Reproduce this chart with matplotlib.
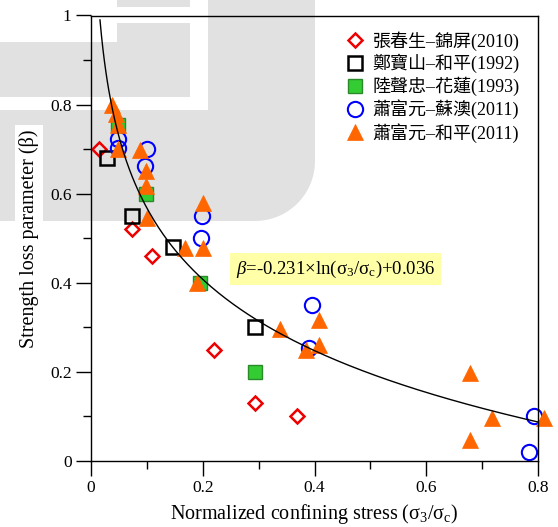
import numpy as np
import matplotlib
matplotlib.use('Agg')
import matplotlib.pyplot as plt
from matplotlib.patches import Rectangle, Polygon
from matplotlib.ticker import MultipleLocator, FuncFormatter

plt.rcParams['font.family'] = ['Liberation Serif', 'Noto Sans CJK TC']
plt.rcParams['mathtext.fontset'] = 'custom'
plt.rcParams['mathtext.rm'] = 'Liberation Serif'
plt.rcParams['mathtext.it'] = 'Liberation Serif:italic'

# data
zhang_x = [0.015, 0.073, 0.110, 0.220, 0.294, 0.368]
zhang_y = [0.700, 0.520, 0.460, 0.250, 0.130, 0.100]

zheng_x = [0.028, 0.073, 0.146, 0.293]
zheng_y = [0.680, 0.550, 0.480, 0.300]

lu_x = [0.049, 0.098, 0.195, 0.293]
lu_y = [0.755, 0.600, 0.400, 0.200]

xiao_sa_x = [0.049, 0.049, 0.100, 0.097, 0.198, 0.196, 0.396, 0.391, 0.793, 0.784]
xiao_sa_y = [0.723, 0.703, 0.700, 0.663, 0.550, 0.500, 0.350, 0.253, 0.100, 0.020]

xiao_hp_x = [0.037, 0.044, 0.049, 0.049, 0.088, 0.098, 0.098, 0.100, 0.200, 0.168,
             0.200, 0.189, 0.339, 0.385, 0.408, 0.408, 0.678, 0.718, 0.678, 0.810]
xiao_hp_y = [0.800, 0.780, 0.755, 0.700, 0.697, 0.650, 0.617, 0.545, 0.580, 0.478,
             0.478, 0.400, 0.297, 0.250, 0.317, 0.260, 0.197, 0.096, 0.047, 0.096]

labels = ['張春生–錦屏(2010)', '鄭寶山–和平(1992)', '陸聲忠–花蓮(1993)',
          '蕭富元–蘇澳(2011)', '蕭富元–和平(2011)']

# fitted curve beta = a*ln(s3/sc) + b
fit_a, fit_b = -0.231, 0.036

fig = plt.figure(figsize=(5.58, 5.27), dpi=100)

# faint watermark behind the plot, in pixel units
bg = fig.add_axes([0, 0, 1, 1], zorder=0)
bg.set_xlim(0, 558)
bg.set_ylim(527, 0)
bg.axis('off')
gray = '#e1e1e1'
r = 60
th = np.linspace(0, np.pi / 2, 20)
arc = np.column_stack([315 - r + r * np.cos(th), 221 - r + r * np.sin(th)])
shape = np.vstack([[[0, 42], [315, 42]], arc, [[0, 221]]])
bg.add_patch(Polygon(shape, closed=True, fc=gray, ec='none'))
bg.add_patch(Rectangle((208, 0), 107, 42, fc=gray, ec='none'))
bg.add_patch(Rectangle((117, 0), 73, 7, fc=gray, ec='none'))
bg.add_patch(Rectangle((117, 23), 73, 19, fc=gray, ec='none'))
bg.add_patch(Rectangle((0, 97), 208, 13, fc='white', ec='none'))
bg.add_patch(Rectangle((190, 0), 18, 110, fc='white', ec='none'))

ax = fig.add_axes([91 / 558, 66 / 527, 447 / 558, 445.5 / 527], zorder=1)
ax.set_facecolor('none')

ax.plot(zhang_x, zhang_y, 'D', ms=7.5, mfc='none', mec='#ee0000', mew=1.8,
        ls='none', label=labels[0], clip_on=False)
ax.plot(zheng_x, zheng_y, 's', ms=10.5, mfc='none', mec='black', mew=1.8,
        ls='none', label=labels[1], clip_on=False)
ax.plot(lu_x, lu_y, 's', ms=10.5, mfc='#33cc33', mec='#2a8a2a', mew=1.0,
        ls='none', label=labels[2], clip_on=False)
ax.plot(xiao_sa_x, xiao_sa_y, 'o', ms=11, mfc='none', mec='#0000ff', mew=1.5,
        ls='none', label=labels[3], clip_on=False)
ax.plot(xiao_hp_x, xiao_hp_y, '^', ms=12, mfc='#ff6600', mec='#ff6600', mew=0.5,
        ls='none', label=labels[4], clip_on=False)

xs = np.linspace(np.exp((fit_b - 0.99) / -fit_a), 0.8, 300)
ax.plot(xs, fit_a * np.log(xs) + fit_b, color='black', lw=1.0, zorder=5)

ax.text(0.438, 0.431,
        r'$\mathit{\beta}$=-0.231×ln($\mathrm{\sigma_3/\sigma_c}$)+0.036',
        fontsize=13.5, ha='center', va='center', zorder=6,
        bbox=dict(boxstyle='square,pad=0.3', fc='#ffffa8', ec='none'))

ax.set_xlim(0, 0.8)
ax.set_ylim(0, 1)
ax.xaxis.set_major_locator(MultipleLocator(0.2))
ax.xaxis.set_minor_locator(MultipleLocator(0.1))
ax.yaxis.set_major_locator(MultipleLocator(0.2))
ax.yaxis.set_minor_locator(MultipleLocator(0.1))
fmt = FuncFormatter(lambda v, p: f'{v:g}')
ax.xaxis.set_major_formatter(fmt)
ax.yaxis.set_major_formatter(fmt)
ax.tick_params(which='major', direction='out', length=11, width=1, labelsize=12.5, pad=3)
ax.tick_params(which='minor', direction='out', length=6, width=1)
for s in ax.spines.values():
    s.set_linewidth(1)

ax.set_xlabel(r'Normalized confining stress ($\mathrm{\sigma_3/\sigma_c}$)', fontsize=14.5, labelpad=4)
ax.set_ylabel('Strength loss parameter (β)', fontsize=14.5, labelpad=8,
              bbox=dict(boxstyle='square,pad=0.2', fc='white', ec='none'))

ax.legend(loc='upper left', bbox_to_anchor=(0.571, 0.965), frameon=False,
          fontsize=13, handlelength=1.0, handletextpad=0.45, labelspacing=0.19,
          borderpad=0, borderaxespad=0)

fig.savefig('out.png', dpi=100)
